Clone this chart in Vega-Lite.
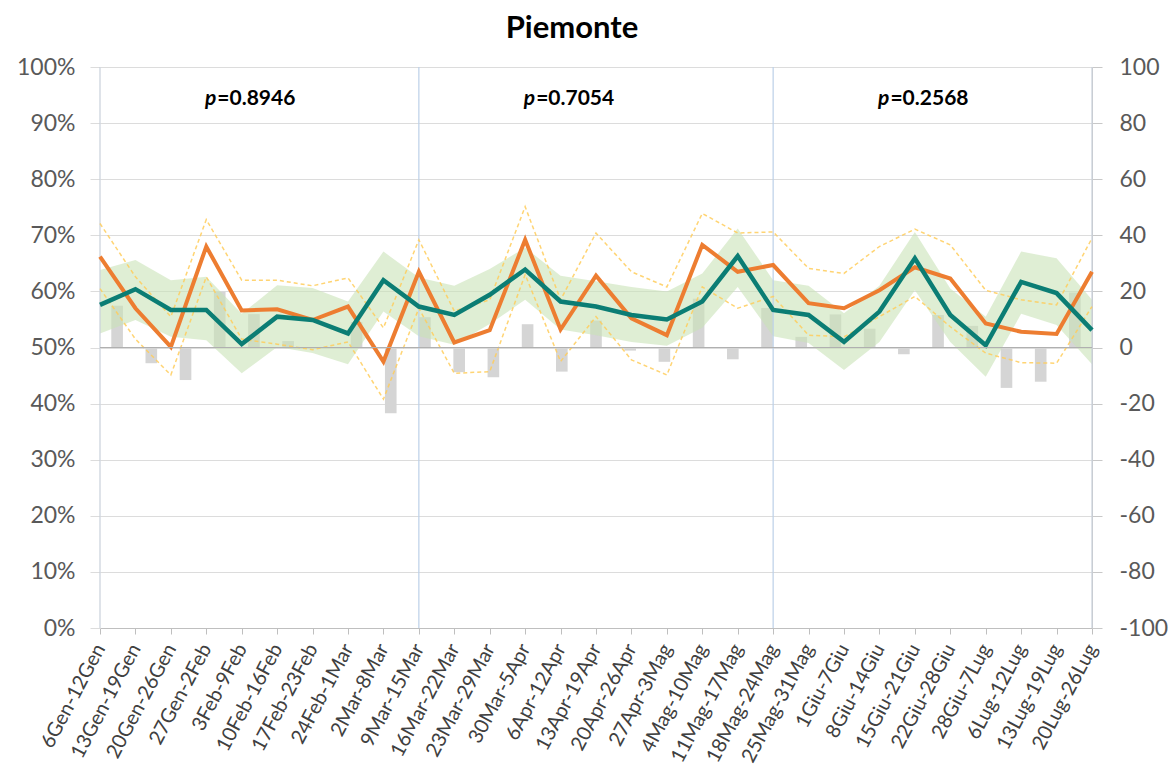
{
  "$schema": "https://vega.github.io/schema/vega-lite/v6.json",
  "autosize": {"type": "none"},
  "width": 992,
  "height": 561,
  "padding": {"left": 100, "top": 67, "right": 82, "bottom": 143},
  "background": "white",
  "config": {
    "font": "Lato",
    "view": {"stroke": null},
    "axis": {"labelFont": "Lato", "labelColor": "#595959", "titleColor": "#595959"}
  },
  "title": {
    "text": "Piemonte",
    "fontSize": 31,
    "fontWeight": "bold",
    "font": "Lato",
    "color": "#000000",
    "anchor": "middle",
    "offset": 11,
    "dx": -24
  },
  "datasets": {
    "weeks": [
      {"wk": "6Gen-12Gen", "obs": 66.2, "exp": 57.6, "lo": 52.5, "hi": 63.8, "ylo": 60.5, "yhi": 72.1, "diff": 14.9},
      {"wk": "13Gen-19Gen", "obs": 57.0, "exp": 60.4, "lo": 54.9, "hi": 65.6, "ylo": 51.5, "yhi": 62.6, "diff": -5.6},
      {"wk": "20Gen-26Gen", "obs": 50.1, "exp": 56.7, "lo": 51.9, "hi": 62.0, "ylo": 45.1, "yhi": 55.5, "diff": -11.6},
      {"wk": "27Gen-2Feb", "obs": 68.0, "exp": 56.7, "lo": 51.3, "hi": 62.6, "ylo": 62.6, "yhi": 72.8, "diff": 19.9},
      {"wk": "3Feb-9Feb", "obs": 56.6, "exp": 50.6, "lo": 45.4, "hi": 56.0, "ylo": 51.5, "yhi": 62.0, "diff": 11.9},
      {"wk": "10Feb-16Feb", "obs": 56.8, "exp": 55.5, "lo": 50.1, "hi": 61.1, "ylo": 50.6, "yhi": 62.0, "diff": 2.3},
      {"wk": "17Feb-23Feb", "obs": 54.9, "exp": 54.9, "lo": 49.0, "hi": 60.6, "ylo": 49.6, "yhi": 61.0, "diff": 0.0},
      {"wk": "24Feb-1Mar", "obs": 57.3, "exp": 52.5, "lo": 47.0, "hi": 58.2, "ylo": 51.0, "yhi": 62.4, "diff": 9.1},
      {"wk": "2Mar-8Mar", "obs": 47.5, "exp": 62.0, "lo": 56.4, "hi": 67.1, "ylo": 40.8, "yhi": 53.5, "diff": -23.4},
      {"wk": "9Mar-15Mar", "obs": 63.5, "exp": 57.3, "lo": 52.0, "hi": 62.5, "ylo": 57.0, "yhi": 69.2, "diff": 10.8},
      {"wk": "16Mar-22Mar", "obs": 50.9, "exp": 55.8, "lo": 50.5, "hi": 61.0, "ylo": 45.4, "yhi": 56.5, "diff": -8.8},
      {"wk": "23Mar-29Mar", "obs": 53.1, "exp": 59.4, "lo": 54.2, "hi": 64.0, "ylo": 45.7, "yhi": 58.5, "diff": -10.6},
      {"wk": "30Mar-5Apr", "obs": 69.2, "exp": 63.9, "lo": 58.5, "hi": 67.8, "ylo": 63.0, "yhi": 75.1, "diff": 8.3},
      {"wk": "6Apr-12Apr", "obs": 53.2, "exp": 58.2, "lo": 53.2, "hi": 62.8, "ylo": 47.5, "yhi": 58.5, "diff": -8.6},
      {"wk": "13Apr-19Apr", "obs": 62.8, "exp": 57.3, "lo": 52.2, "hi": 61.8, "ylo": 55.5, "yhi": 70.4, "diff": 9.6},
      {"wk": "20Apr-26Apr", "obs": 55.2, "exp": 55.8, "lo": 51.0, "hi": 60.8, "ylo": 47.8, "yhi": 63.5, "diff": -1.1},
      {"wk": "27Apr-3Mag", "obs": 52.2, "exp": 55.0, "lo": 50.3, "hi": 60.0, "ylo": 45.1, "yhi": 60.8, "diff": -5.1},
      {"wk": "4Mag-10Mag", "obs": 68.3, "exp": 58.2, "lo": 53.5, "hi": 63.2, "ylo": 60.8, "yhi": 73.9, "diff": 17.4},
      {"wk": "11Mag-17Mag", "obs": 63.5, "exp": 66.3, "lo": 60.8, "hi": 71.2, "ylo": 57.0, "yhi": 70.4, "diff": -4.2},
      {"wk": "18Mag-24Mag", "obs": 64.7, "exp": 56.7, "lo": 52.0, "hi": 62.0, "ylo": 59.1, "yhi": 70.6, "diff": 14.1},
      {"wk": "25Mag-31Mag", "obs": 57.9, "exp": 55.8, "lo": 50.8, "hi": 61.0, "ylo": 52.2, "yhi": 64.1, "diff": 3.8},
      {"wk": "1Giu-7Giu", "obs": 57.0, "exp": 51.0, "lo": 46.0, "hi": 56.1, "ylo": 51.9, "yhi": 63.2, "diff": 11.8},
      {"wk": "8Giu-14Giu", "obs": 60.2, "exp": 56.4, "lo": 51.0, "hi": 61.0, "ylo": 55.5, "yhi": 68.0, "diff": 6.7},
      {"wk": "15Giu-21Giu", "obs": 64.3, "exp": 65.9, "lo": 60.2, "hi": 70.6, "ylo": 59.1, "yhi": 71.1, "diff": -2.4},
      {"wk": "22Giu-28Giu", "obs": 62.3, "exp": 55.8, "lo": 51.0, "hi": 60.5, "ylo": 53.7, "yhi": 68.3, "diff": 11.6},
      {"wk": "28Giu-7Lug", "obs": 54.3, "exp": 50.4, "lo": 44.8, "hi": 55.5, "ylo": 49.0, "yhi": 60.2, "diff": 7.7},
      {"wk": "6Lug-12Lug", "obs": 52.8, "exp": 61.7, "lo": 56.0, "hi": 67.1, "ylo": 47.3, "yhi": 58.5, "diff": -14.4},
      {"wk": "13Lug-19Lug", "obs": 52.4, "exp": 59.7, "lo": 54.0, "hi": 65.9, "ylo": 47.2, "yhi": 57.6, "diff": -12.2},
      {"wk": "20Lug-26Lug", "obs": 63.5, "exp": 53.1, "lo": 47.0, "hi": 58.5, "ylo": 57.3, "yhi": 69.5, "diff": 19.6}
    ],
    "dividers": [
      {"wk": "6Gen-12Gen", "kind": "edge"},
      {"wk": "9Mar-15Mar", "kind": "mid"},
      {"wk": "18Mag-24Mag", "kind": "mid"},
      {"wk": "20Lug-26Lug", "kind": "edge"}
    ],
    "pvals": [
      {"wk": "27Gen-2Feb", "p": "p", "val": "=0.8946"},
      {"wk": "30Mar-5Apr", "p": "p", "val": "=0.7054"},
      {"wk": "8Giu-14Giu", "p": "p", "val": "=0.2568"}
    ]
  },
  "layer": [
    {
      "data": {"name": "weeks"},
      "mark": {"type": "bar", "color": "#d5d5d5", "width": {"band": 0.34}},
      "encoding": {
        "x": {
          "field": "wk", "type": "nominal",
          "scale": {"type": "band", "paddingInner": 0, "paddingOuter": 0,
            "domain": ["6Gen-12Gen","13Gen-19Gen","20Gen-26Gen","27Gen-2Feb","3Feb-9Feb","10Feb-16Feb","17Feb-23Feb","24Feb-1Mar","2Mar-8Mar","9Mar-15Mar","16Mar-22Mar","23Mar-29Mar","30Mar-5Apr","6Apr-12Apr","13Apr-19Apr","20Apr-26Apr","27Apr-3Mag","4Mag-10Mag","11Mag-17Mag","18Mag-24Mag","25Mag-31Mag","1Giu-7Giu","8Giu-14Giu","15Giu-21Giu","22Giu-28Giu","28Giu-7Lug","6Lug-12Lug","13Lug-19Lug","20Lug-26Lug"]},
          "axis": null
        },
        "y": {
          "field": "diff", "type": "quantitative",
          "scale": {"domain": [-100, 100], "nice": false},
          "axis": {
            "orient": "right", "title": null,
            "values": [-100,-80,-60,-40,-20,0,20,40,60,80,100],
            "labelExpr": "(datum.value < 0 ? '-' : '') + abs(datum.value)",
            "grid": false, "domain": true, "domainColor": "#c8c8c8",
            "ticks": true, "tickSize": 10, "tickColor": "#c8c8c8",
            "labelFontSize": 23, "labelPadding": 17, "labelColor": "#595959"
          }
        }
      }
    },
    {
      "encoding": {
        "x": {
          "field": "wk", "type": "nominal",
          "scale": {"type": "point", "padding": 0,
            "domain": ["6Gen-12Gen","13Gen-19Gen","20Gen-26Gen","27Gen-2Feb","3Feb-9Feb","10Feb-16Feb","17Feb-23Feb","24Feb-1Mar","2Mar-8Mar","9Mar-15Mar","16Mar-22Mar","23Mar-29Mar","30Mar-5Apr","6Apr-12Apr","13Apr-19Apr","20Apr-26Apr","27Apr-3Mag","4Mag-10Mag","11Mag-17Mag","18Mag-24Mag","25Mag-31Mag","1Giu-7Giu","8Giu-14Giu","15Giu-21Giu","22Giu-28Giu","28Giu-7Lug","6Lug-12Lug","13Lug-19Lug","20Lug-26Lug"]},
          "axis": {
            "title": null, "labelAngle": -62, "labelFontSize": 20, "labelColor": "#404040",
            "domain": true, "domainColor": "#bfbfbf", "ticks": true, "tickSize": 6,
            "tickColor": "#bfbfbf", "labelPadding": 11, "grid": false
          }
        }
      },
      "layer": [
        {
          "data": {"name": "weeks"},
          "mark": {"type": "area", "color": "#c9e2b8", "opacity": 0.6},
          "encoding": {
            "y": {
              "field": "lo", "type": "quantitative",
              "scale": {"domain": [0, 100], "nice": false},
              "axis": {
                "title": null, "orient": "left",
                "values": [0,10,20,30,40,50,60,70,80,90,100],
                "labelExpr": "datum.value + '%'",
                "grid": true, "gridColor": "#dcdcdc", "gridWidth": 1,
                "domain": false, "ticks": true, "tickSize": 10, "tickColor": "#dcdcdc",
                "labelFontSize": 23, "labelPadding": 15, "labelColor": "#595959"
              }
            },
            "y2": {"field": "hi"}
          }
        },
        {
          "data": {"name": "dividers"},
          "mark": {"type": "rule", "strokeWidth": 1.2},
          "encoding": {
            "color": {
              "field": "kind", "type": "nominal",
              "scale": {"domain": ["edge", "mid"], "range": ["#c9d0da", "#bcd0e8"]},
              "legend": null
            }
          }
        },
        {
          "data": {"name": "weeks"},
          "mark": {"type": "line", "color": "#ffcd5a", "strokeWidth": 1.5, "strokeDash": [4, 3], "opacity": 0.85},
          "encoding": {"y": {"field": "yhi", "type": "quantitative"}}
        },
        {
          "data": {"name": "weeks"},
          "mark": {"type": "line", "color": "#ffcd5a", "strokeWidth": 1.5, "strokeDash": [4, 3], "opacity": 0.85},
          "encoding": {"y": {"field": "ylo", "type": "quantitative"}}
        },
        {
          "data": {"name": "weeks"},
          "mark": {"type": "line", "color": "#ed7d31", "strokeWidth": 4},
          "encoding": {"y": {"field": "obs", "type": "quantitative"}}
        },
        {
          "data": {"name": "weeks"},
          "mark": {"type": "line", "color": "#0b7d74", "strokeWidth": 4.5},
          "encoding": {"y": {"field": "exp", "type": "quantitative"}}
        },
        {
          "data": {"name": "pvals"},
          "mark": {"type": "text", "fontSize": 21, "fontWeight": "bold", "fontStyle": "italic", "align": "right", "baseline": "middle", "dx": 10, "color": "#000000"},
          "encoding": {"y": {"datum": 94.3, "type": "quantitative"}, "text": {"field": "p"}}
        },
        {
          "data": {"name": "pvals"},
          "mark": {"type": "text", "fontSize": 21, "fontWeight": "bold", "align": "left", "baseline": "middle", "dx": 11, "color": "#000000"},
          "encoding": {"y": {"datum": 94.3, "type": "quantitative"}, "text": {"field": "val"}}
        }
      ]
    },
    {
      "data": {"values": [{"z": 0}]},
      "mark": {"type": "rule", "color": "#b0b0b0", "strokeWidth": 1.2},
      "encoding": {
        "y": {"field": "z", "type": "quantitative", "scale": {"domain": [-100, 100], "nice": false}, "axis": null}
      }
    }
  ],
  "resolve": {"scale": {"x": "independent", "y": "independent"}, "axis": {"x": "independent", "y": "independent"}}
}
